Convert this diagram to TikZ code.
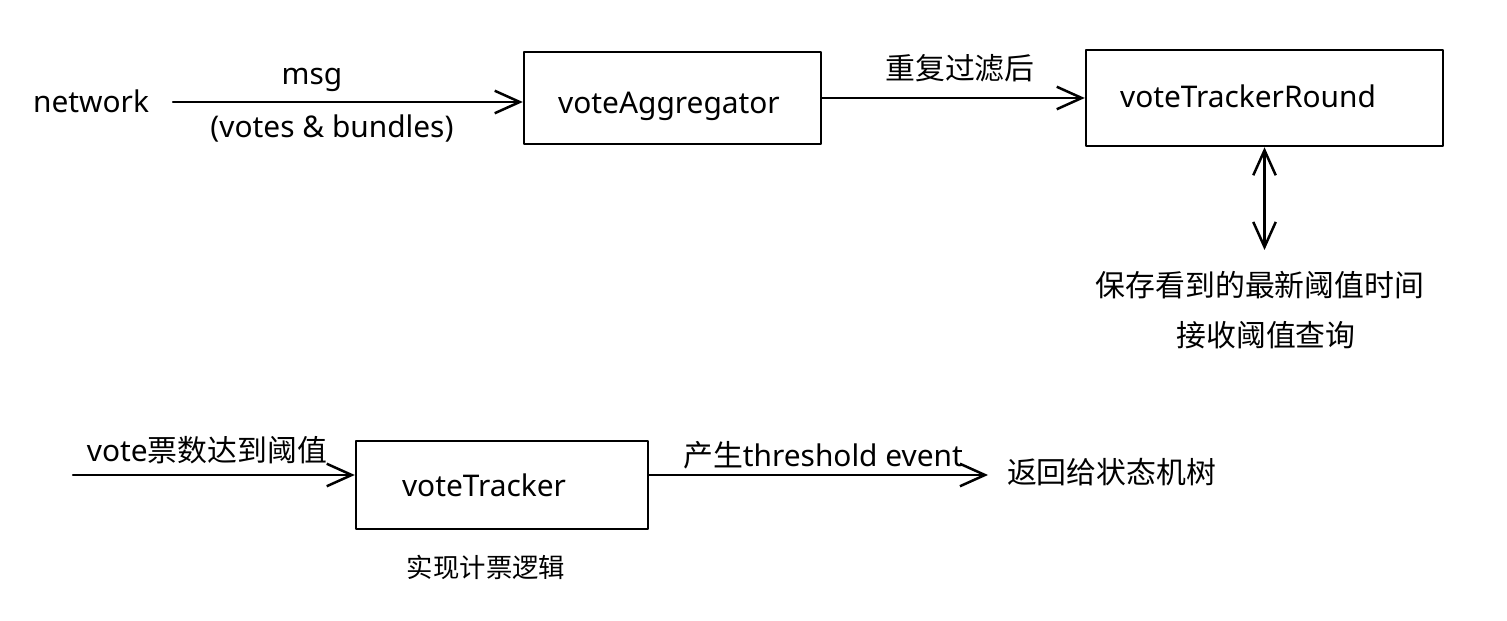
\documentclass[tikz,border=0pt]{standalone}
\usepackage{fontspec}
\setmainfont{Noto Sans}
\newfontfamily\cjk{Noto Sans CJK SC}
\usetikzlibrary{arrows.meta}

\begin{document}
\begin{tikzpicture}[x=0.02cm, y=-0.02cm, >={Straight Barb[length=5mm, width=4.5mm]}, line cap=round, line join=round,
  box/.style={draw, line width=0.05cm, inner sep=0pt},
  txt/.style={inner sep=1pt, font=\fontsize{17}{20}\selectfont},
  flow/.style={->, line width=0.05cm}]
\useasboundingbox (0,0) rectangle (1507,621);

% boxes
\node[box, minimum width=5.94cm, minimum height=1.84cm] (agg) at (672.5,98) {};
\node[box, minimum width=7.14cm, minimum height=1.92cm] (vtr) at (1264.5,98) {};
\node[box, minimum width=5.84cm, minimum height=1.76cm] (vt) at (502,485) {};
\node[txt] (aggname) at (669,106) {voteAggregator};
\node[txt] (vtrname) at (1248,96) {voteTrackerRound};
\node[txt] (vtname) at (484,485) {voteTracker};

% labels
\node[txt] (network) at (91,101) {network};
\coordinate (netout) at (173,102);
\node[txt] (msg) at (312,80) {msg};
\node[txt] (payload) at (332,129) {(votes \& bundles)};
\node[txt] (dedup) at (960,68) {\cjk 重复过滤后};
\coordinate (save) at (1264.5,250);
\node[txt] (keep) at (1260,285) {\cjk 保存看到的最新阈值时间};
\node[txt] (query) at (1266,335) {\cjk 接收阈值查询};
\coordinate (votein) at (73,475);
\node[txt] (reach) at (207,450) {vote{\cjk 票数达到阈值}};
\coordinate (evout) at (988,475);
\node[txt] (event) at (823,455) {{\cjk 产生}threshold event};
\node[txt, anchor=west] (back) at (1005,472) {\cjk 返回给状态机树};
\node[txt, font=\fontsize{15}{18}\selectfont] (count) at (486,567) {\cjk 实现计票逻辑};

\draw[flow] (netout) -- (netout -| agg.west);
\draw[flow] (agg.east |- vtr) -- (vtr.west);
\draw[flow, <->] (vtr.south) -- (save);
\draw[flow] (votein) -- (votein -| vt.west);
\draw[flow] (vt.east |- evout) -- (evout);

\end{tikzpicture}
\end{document}
